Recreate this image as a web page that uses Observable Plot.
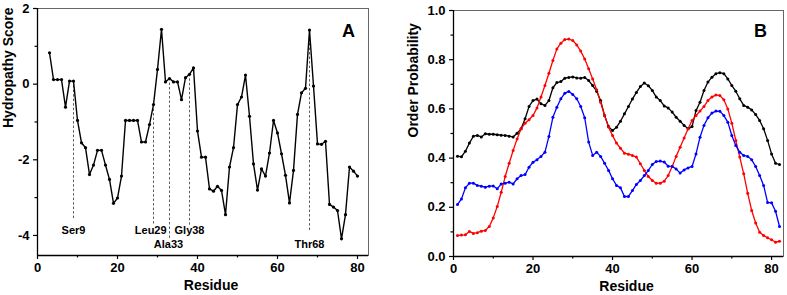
<!DOCTYPE html>
<html>
<head>
<meta charset="utf-8">
<script src="https://cdn.jsdelivr.net/npm/d3@7"></script>
<script src="https://cdn.jsdelivr.net/npm/@observablehq/plot@0.6"></script>
<style>
  html, body { margin: 0; padding: 0; background: #fff; }
  #wrap { position: relative; width: 787px; height: 295px; overflow: hidden; }
  #panelA { position: absolute; left: 0; top: 0; }
  #panelB { position: absolute; left: 393px; top: 0; }
</style>
</head>
<body>
<div id="wrap"><div id="panelA"></div><div id="panelB"></div></div>
<script>
// ---------- Panel A data ----------
const residuesA = [3,4,5,6,7,8,9,10,11,12,13,14,15,16,17,18,19,20,21,22,23,24,25,26,27,28,29,30,31,32,33,34,35,36,37,38,39,40,41,42,43,44,45,46,47,48,49,50,51,52,53,54,55,56,57,58,59,60,61,62,63,64,65,66,67,68,69,70,71,72,73,74,75,76,77,78,79,80];
const hydropathy = [0.83,0.12,0.12,0.12,-0.61,0.08,0.08,-0.96,-1.55,-1.68,-2.39,-2.14,-1.75,-1.75,-2.14,-2.52,-3.15,-3.01,-2.43,-0.96,-0.96,-0.96,-0.96,-1.53,-1.53,-1.07,-0.54,0.39,1.45,0.06,0.15,0.06,0.06,-0.41,0.17,0.26,0.43,-1.24,-1.93,-1.93,-2.77,-2.83,-2.70,-2.81,-3.45,-2.19,-1.68,-0.54,-0.34,0.24,-0.85,-2.11,-2.80,-2.24,-2.43,-1.82,-0.96,-1.29,-1.84,-2.41,-3.14,-2.28,-0.80,-0.23,-0.11,1.43,-0.05,-1.58,-1.59,-1.51,-3.18,-3.25,-3.34,-4.09,-3.45,-2.19,-2.30,-2.43];
const markNames = ["Ser9","Leu29","Ala33","Gly38","Thr68"];
const markResidues = [9,29,33,38,68];
const markTops = [0.08,-0.54,0.15,0.26,1.43];
const markEnds = [-3.57,-3.73,-4.08,-3.73,-3.89];
const markLabelX = [9,28.3,32.75,38,68];
const markLabelY = [-3.965,-3.965,-4.335,-3.965,-4.335];
const xTicksA = [0,20,40,60,80];
const xMinorA = [10,30,50,70];
const yTicksA = [-4,-2,0,2];
const yMinorA = [-3,-1,1];

// ---------- Panel B data ----------
const residuesB = [1,2,3,4,5,6,7,8,9,10,11,12,13,14,15,16,17,18,19,20,21,22,23,24,25,26,27,28,29,30,31,32,33,34,35,36,37,38,39,40,41,42,43,44,45,46,47,48,49,50,51,52,53,54,55,56,57,58,59,60,61,62,63,64,65,66,67,68,69,70,71,72,73,74,75,76,77,78,79,80,81,82];
const blackSeries = [0.408,0.405,0.428,0.461,0.489,0.492,0.486,0.499,0.497,0.497,0.495,0.493,0.492,0.489,0.486,0.501,0.519,0.560,0.610,0.634,0.640,0.621,0.614,0.634,0.686,0.707,0.711,0.725,0.728,0.730,0.726,0.725,0.728,0.715,0.695,0.672,0.634,0.573,0.528,0.512,0.525,0.550,0.580,0.610,0.640,0.667,0.691,0.705,0.694,0.675,0.648,0.634,0.612,0.604,0.587,0.566,0.550,0.533,0.519,0.528,0.593,0.627,0.675,0.709,0.729,0.743,0.747,0.743,0.722,0.695,0.672,0.641,0.614,0.607,0.596,0.577,0.553,0.519,0.472,0.417,0.379,0.374];
const redSeries = [0.085,0.087,0.088,0.102,0.094,0.097,0.103,0.106,0.122,0.157,0.203,0.261,0.325,0.379,0.431,0.478,0.519,0.542,0.556,0.573,0.604,0.648,0.695,0.745,0.797,0.844,0.867,0.882,0.884,0.878,0.860,0.835,0.803,0.763,0.722,0.678,0.627,0.573,0.526,0.492,0.461,0.440,0.420,0.416,0.411,0.404,0.377,0.350,0.325,0.309,0.298,0.298,0.306,0.329,0.366,0.407,0.444,0.482,0.519,0.553,0.573,0.591,0.610,0.634,0.648,0.657,0.654,0.637,0.600,0.542,0.472,0.404,0.336,0.257,0.187,0.136,0.099,0.085,0.076,0.068,0.058,0.062];
const blueSeries = [0.211,0.234,0.279,0.298,0.298,0.289,0.286,0.282,0.286,0.287,0.275,0.295,0.298,0.302,0.295,0.316,0.329,0.333,0.363,0.383,0.393,0.407,0.424,0.488,0.566,0.607,0.641,0.664,0.671,0.659,0.641,0.610,0.564,0.465,0.411,0.424,0.407,0.379,0.350,0.316,0.289,0.279,0.244,0.244,0.268,0.293,0.309,0.329,0.350,0.374,0.386,0.388,0.384,0.367,0.366,0.356,0.339,0.352,0.360,0.366,0.417,0.485,0.533,0.564,0.583,0.591,0.590,0.573,0.546,0.492,0.451,0.424,0.411,0.407,0.393,0.366,0.329,0.289,0.220,0.218,0.184,0.122];
const seriesNames = ["black","red","blue"];
const seriesColors = ["#000000","#ff0000","#0000ff"];
const xTicksB = [0,20,40,60,80];
const xMinorB = [10,30,50,70];
const yTicksB = [0,0.2,0.4,0.6,0.8,1.0];
const yMinorB = [0.1,0.3,0.5,0.7,0.9];

const FONT = "'Liberation Sans', Arial, Helvetica, sans-serif";

// ---------- Panel A ----------
const tableA = residuesA.map((r, i) => ({r, v: hydropathy[i]}));
const annot = markNames.map((name, i) => ({
  name, r: markResidues[i], top: markTops[i], end: markEnds[i], lx: markLabelX[i], ly: markLabelY[i]
}));
const yMinA = -4.53, xMaxA = 82.75;

const chartA = Plot.plot({
  width: 393, height: 295,
  marginLeft: 37, marginRight: 25, marginTop: 8, marginBottom: 40,
  x: {domain: [0, xMaxA]},
  y: {domain: [yMinA, 2]},
  style: {fontFamily: FONT, fontWeight: "bold", fontSize: "13px", color: "#000", background: "#fff"},
  marks: [
    Plot.frame({stroke: "#666", strokeWidth: 1}),
    Plot.ruleX([0], {stroke: "#000", strokeWidth: 1.3}),
    Plot.ruleY([yMinA], {stroke: "#000", strokeWidth: 1.3}),
    Plot.axisX({ticks: xTicksA, tickSize: 4, tickPadding: 3, tickFormat: d => String(d), label: null, fontSize: 13, fontWeight: "bold", strokeWidth: 1.2}),
    Plot.axisX({ticks: xMinorA, tickSize: 2.5, tickFormat: () => "", label: null, strokeWidth: 1.2}),
    Plot.axisY({ticks: yTicksA, tickSize: 4, tickPadding: 4, tickFormat: d => String(d), label: null, fontSize: 13, fontWeight: "bold", strokeWidth: 1.2}),
    Plot.axisY({ticks: yMinorA, tickSize: 2.5, tickFormat: () => "", label: null, strokeWidth: 1.2}),
    Plot.ruleX(annot, {x: "r", y1: "top", y2: "end", stroke: "#333", strokeWidth: 0.8, strokeDasharray: "2.5,2"}),
    Plot.line(tableA, {x: "r", y: "v", stroke: "#000", strokeWidth: 1.4}),
    Plot.dot(tableA, {x: "r", y: "v", r: 1.6, fill: "#000", stroke: null}),
    Plot.text(annot, {x: "lx", y: "ly", text: "name", lineAnchor: "bottom", fontSize: 11, fontWeight: "bold", fill: "#000"}),
    Plot.text(["Residue"], {text: d => d, frameAnchor: "bottom", dx: 8, dy: 34, lineAnchor: "bottom", fontSize: 14, fontWeight: "bold", fill: "#000"}),
    Plot.text(["Hydropathy Score"], {text: d => d, frameAnchor: "left", rotate: -90, dx: -29, dy: -4, lineAnchor: "middle", fontSize: 14, fontWeight: "bold", fill: "#000"}),
    Plot.text(["A"], {text: d => d, frameAnchor: "top-right", dx: -20, dy: 23, textAnchor: "middle", lineAnchor: "middle", fontSize: 18, fontWeight: "bold", fill: "#000"})
  ]
});
document.getElementById("panelA").appendChild(chartA);

// ---------- Panel B ----------
const seriesValues = [blackSeries, redSeries, blueSeries];
const tableB = seriesNames.flatMap((s, k) => residuesB.map((r, i) => ({r, v: seriesValues[k][i], series: s})));
const xMaxB = 83;

const chartB = Plot.plot({
  width: 394, height: 295,
  marginLeft: 60, marginRight: 4, marginTop: 10, marginBottom: 39,
  x: {domain: [0, xMaxB]},
  y: {domain: [0, 1]},
  color: {domain: seriesNames, range: seriesColors},
  style: {fontFamily: FONT, fontWeight: "bold", fontSize: "13px", color: "#000", background: "#fff"},
  marks: [
    Plot.frame({stroke: "#666", strokeWidth: 1}),
    Plot.ruleX([0], {stroke: "#000", strokeWidth: 1.3}),
    Plot.ruleY([0], {stroke: "#000", strokeWidth: 1.3}),
    Plot.axisX({ticks: xTicksB, tickSize: 4, tickPadding: 3, tickFormat: d => String(d), label: null, fontSize: 13, fontWeight: "bold", strokeWidth: 1.2}),
    Plot.axisX({ticks: xMinorB, tickSize: 2.5, tickFormat: () => "", label: null, strokeWidth: 1.2}),
    Plot.axisY({ticks: yTicksB, tickSize: 4, tickPadding: 4, tickFormat: d3.format(".1f"), label: null, fontSize: 13, fontWeight: "bold", strokeWidth: 1.2}),
    Plot.axisY({ticks: yMinorB, tickSize: 2.5, tickFormat: () => "", label: null, strokeWidth: 1.2}),
    Plot.line(tableB, {x: "r", y: "v", z: "series", stroke: "series", strokeWidth: 1.3}),
    Plot.dot(tableB, {x: "r", y: "v", fill: "series", r: 1.5, stroke: null}),
    Plot.text(["Residue"], {text: d => d, frameAnchor: "bottom", dx: 8, dy: 34, lineAnchor: "bottom", fontSize: 14, fontWeight: "bold", fill: "#000"}),
    Plot.text(["Order Probability"], {text: d => d, frameAnchor: "left", rotate: -90, dx: -40, dy: 4, lineAnchor: "middle", fontSize: 14, fontWeight: "bold", fill: "#000"}),
    Plot.text(["B"], {text: d => d, frameAnchor: "top-right", dx: -23, dy: 21, textAnchor: "middle", lineAnchor: "middle", fontSize: 18, fontWeight: "bold", fill: "#000"})
  ]
});
document.getElementById("panelB").appendChild(chartB);
</script>
</body>
</html>
